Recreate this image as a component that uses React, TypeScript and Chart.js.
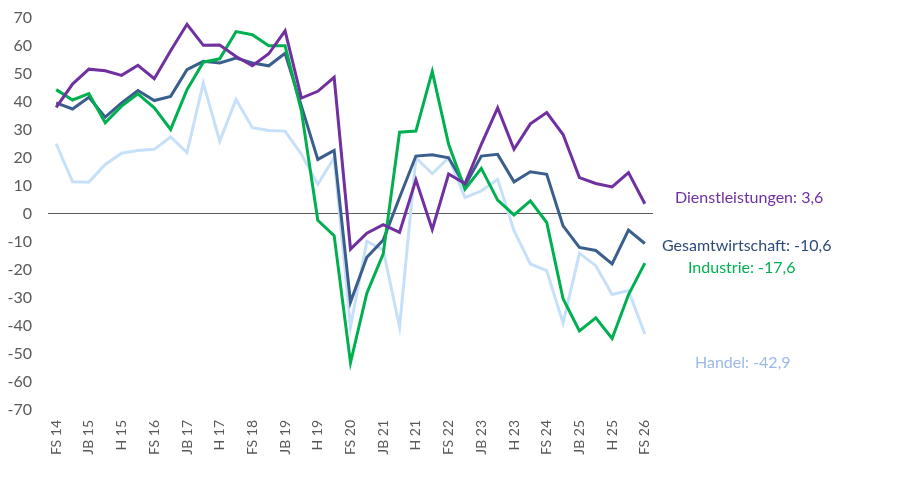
import { useEffect, useRef } from "react";
import { Chart, registerables } from "chart.js";

Chart.register(...registerables);

const categories = [
  "FS 14", "H 14", "JB 15", "FS 15", "H 15", "JB 16", "FS 16", "H 16", "JB 17", "FS 17",
  "H 17", "JB 18", "FS 18", "H 18", "JB 19", "FS 19", "H 19", "JB 20", "FS 20", "H 20",
  "JB 21", "FS 21", "H 21", "JB 22", "FS 22", "H 22", "JB 23", "FS 23", "H 23", "JB 24",
  "FS 24", "H 24", "JB 25", "FS 25", "H 25", "JB 26", "FS 26",
];

const dienstleistungen = [
  38.0, 46.3, 51.6, 51.0, 49.4, 53.0, 48.2, 58.2, 67.6, 60.1,
  60.2, 56.1, 52.8, 57.1, 65.3, 41.3, 43.7, 48.7, -12.6, -6.9,
  -3.9, -6.6, 12.1, -5.6, 14.2, 10.8, 24.8, 37.8, 23.0, 32.1,
  36.1, 28.3, 12.9, 10.8, 9.6, 14.7, 3.6,
];

const gesamtwirtschaft = [
  39.6, 37.4, 41.6, 34.5, 39.6, 44.0, 40.4, 41.9, 51.4, 54.4,
  53.8, 55.6, 53.8, 52.8, 57.3, 38.4, 19.4, 22.6, -31.5, -15.5,
  -9.4, 5.8, 20.6, 21.1, 20.0, 10.0, 20.6, 21.2, 11.4, 15.0,
  14.1, -4.3, -12.0, -13.1, -17.9, -5.8, -10.6,
];

const industrie = [
  44.3, 40.6, 42.9, 32.5, 38.4, 42.8, 37.8, 30.1, 44.3, 54.1,
  55.3, 65.0, 63.9, 60.0, 60.0, 36.6, -2.3, -7.8, -53.1, -28.3,
  -14.3, 29.1, 29.5, 50.8, 24.8, 8.8, 16.2, 4.9, -0.4, 4.6,
  -3.1, -30.3, -41.8, -37.1, -44.5, -28.9, -17.6,
];

const handel = [
  25.0, 11.4, 11.3, 17.6, 21.6, 22.6, 23.0, 27.4, 21.8, 46.7,
  25.9, 40.8, 30.7, 29.7, 29.5, 21.2, 10.5, 20.0, -40.4, -9.8,
  -12.9, -40.4, 20.0, 14.3, 20.0, 5.8, 8.2, 12.3, -6.0, -17.9,
  -20.3, -39.0, -14.1, -18.5, -28.8, -27.4, -42.9,
];

const PURPLE = "#7030a0";
const DARKBLUE = "#3b5f8c";
const GREEN = "#00b050";
const LIGHTBLUE = "#c6e0fa";
const TEXT = "#595959";
const FONT = "Lato, 'Open Sans', sans-serif";

const endLabelTexts = ["Dienstleistungen: 3,6", "Gesamtwirtschaft: -10,6", "Industrie: -17,6", "Handel: -42,9"];
const endLabelColors = [PURPLE, "#2d4b7a", GREEN, "#9cb9e6"];
const endLabelValues = [5.7, -11.4, -19.2, -53.0];
const endLabelOffsets = [22, 9, 35, 42];

const endLabelPlugin = {
  id: "endLabels",
  afterDatasetsDraw(chart: any) {
    const { ctx, chartArea, scales } = chart;
    ctx.save();
    ctx.font = `16px ${FONT}`;
    ctx.textAlign = "left";
    ctx.textBaseline = "middle";
    endLabelTexts.forEach((t, i) => {
      ctx.fillStyle = endLabelColors[i];
      ctx.fillText(t, chartArea.right + endLabelOffsets[i], scales.y.getPixelForValue(endLabelValues[i]));
    });
    ctx.restore();
  },
};

export default function App() {
  const ref = useRef<HTMLCanvasElement | null>(null);

  useEffect(() => {
    if (!ref.current) return;
    const ds = (label: string, data: number[], color: string) => ({
      label,
      data,
      borderColor: color,
      backgroundColor: color,
      borderWidth: 3,
      pointRadius: 0,
      tension: 0,
      fill: false,
    });
    const chart = new Chart(ref.current, {
      type: "line",
      data: {
        labels: categories,
        datasets: [
          ds("Dienstleistungen", dienstleistungen, PURPLE),
          ds("Industrie", industrie, GREEN),
          ds("Gesamtwirtschaft", gesamtwirtschaft, DARKBLUE),
          ds("Handel", handel, LIGHTBLUE),
        ],
      },
      options: {
        animation: false,
        responsive: false,
        maintainAspectRatio: false,
        layout: { padding: { top: 8, right: 254, bottom: 0, left: 0 } },
        plugins: { legend: { display: false }, tooltip: { enabled: false } },
        scales: {
          x: {
            offset: true,
            grid: { display: false, drawTicks: false },
            border: { display: false },
            ticks: {
              autoSkip: false,
              maxRotation: 90,
              minRotation: 90,
              padding: 10,
              color: TEXT,
              font: { family: FONT, size: 14 },
              callback: (_v: any, i: number) => (i % 2 === 0 ? categories[i] : ""),
            },
            afterFit: (s: any) => {
              s.height = 78;
            },
          },
          y: {
            min: -70,
            max: 70,
            ticks: {
              stepSize: 10,
              padding: 16,
              color: TEXT,
              font: { family: FONT, size: 16 },
            },
            grid: {
              drawTicks: false,
              color: (c: any) => (c.tick && c.tick.value === 0 ? "#595959" : "rgba(0,0,0,0)"),
              lineWidth: 1,
            },
            border: { display: false },
            afterFit: (s: any) => {
              s.width = 48;
            },
          },
        },
      },
      plugins: [endLabelPlugin],
    });
    return () => chart.destroy();
  }, []);

  return (
    <div style={{ position: "fixed", left: 0, top: 0, width: 907, height: 480, background: "#fff", overflow: "hidden" }}>
      <canvas
        ref={ref}
        width={907}
        height={496}
        style={{ position: "absolute", left: 0, top: -8, width: 907, height: 496, display: "block" }}
      />
    </div>
  );
}
